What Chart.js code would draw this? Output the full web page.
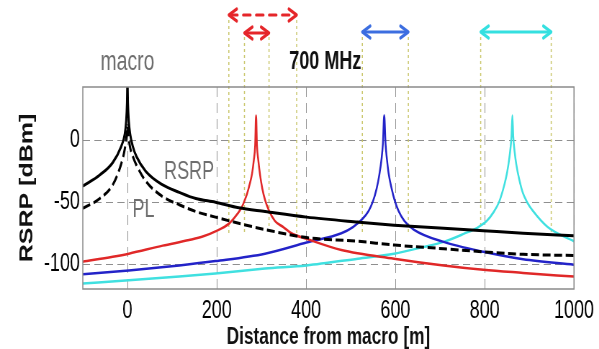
<!DOCTYPE html>
<html>
<head>
<meta charset="utf-8">
<script src="https://cdn.jsdelivr.net/npm/chart.js@4.4.0/dist/chart.umd.min.js"></script>
<style>
  html, body { margin: 0; padding: 0; overflow: hidden; background: #fff; }
  /* the source picture is squeezed sideways, so draw wide and squeeze */
  #wrap { width: 832px; height: 349px; transform: scaleX(0.72); transform-origin: 0 0; }
</style>
</head>
<body>
<div id="wrap"><canvas id="chart" width="832" height="349"></canvas></div>
<script>
// ticks
const xTicks = [0, 200, 400, 600, 800, 1000];
const yTicks = [-100, -50, 0];

// macro: RSRP (solid) and path loss (dashed)
const macroX = [-100, -62, -33, -14, -6, -3, -1, 0, 1, 3, 6, 12, 20, 41, 79, 116, 153, 197, 249, 308, 401, 516, 597, 708, 797, 886, 1000];
const macroRsrp = [-37, -28, -18, -5, 5, 15, 30, 48, 30, 15, 5, -5, -13, -25, -36, -42, -47, -50, -54.5, -57.5, -62, -66, -68.5, -71, -73, -75, -77];
const plX = [-100, -62, -33, -14, -6, -2, 0, 2, 6, 12, 20, 41, 79, 116, 153, 197, 249, 308, 401, 516, 597, 708, 797, 886, 1000];
const plY = [-55, -47, -36, -19, -7, 4, 12, 4, -6, -13, -20, -33, -45.5, -52, -57.5, -62, -67, -72, -78.5, -81.5, -84.5, -87.5, -90, -92, -93];

// small cells
const redX = [-100, -33, 3, 79, 138, 170, 197, 228, 247, 256, 262, 268, 274, 279, 283, 286, 288, 290, 293, 297, 302, 308, 316, 330, 349, 367, 401, 479, 597, 708, 797, 886, 1000];
const redY = [-98, -94, -91.5, -85, -80.5, -77.5, -73.5, -67, -59, -54, -49, -43, -35, -27, -16, -4, 20, -4, -16, -28, -39, -48, -56, -65, -70, -75, -79.5, -88.5, -95.5, -101, -104.5, -107, -110];
const blueX = [-100, 3, 116, 197, 308, 401, 479, 505, 525, 540, 550, 558, 564, 569, 572, 575, 578, 581, 585, 591, 598, 607, 620, 641, 708, 797, 886, 1000];
const blueY = [-108, -105, -101, -97.5, -91.5, -82.5, -75, -70, -64, -57, -49, -39, -28, -15, -3, 20, -3, -15, -27, -38, -48, -57, -65, -72, -82, -90, -96, -100.5];
const cyanX = [-100, 3, 116, 197, 308, 401, 516, 597, 664, 708, 753, 786, 805, 820, 832, 841, 848, 853, 857, 860, 862, 864, 867, 871, 877, 885, 895, 908, 941, 1000];
const cyanY = [-115.5, -113, -110, -107.5, -103.5, -101, -95.5, -91.5, -86, -82, -75.5, -70, -65, -58, -50, -40, -30, -20, -9, 3, 20, 3, -9, -20, -31, -42, -50, -57, -70, -81.5];

// coverage arrows above the plot (metres)
const arrowFrom = [227, 262, 526, 791];
const arrowTo = [379, 317, 629, 949];

// text labels inside the plot
const labelText = ['RSRP', 'PL'];
const labelX = [138, 36];
const labelY = [-26, -56.5];

const FONT = '"Liberation Sans", Arial, sans-serif';

function pts(xs, ys) {
    return xs.map((x, i) => ({ x: x, y: ys[i] }));
}

function arrow(ctx, x1, x2, y, color, dashed) {
    ctx.save();
    ctx.strokeStyle = color;
    ctx.lineWidth = 3.2;
    ctx.lineCap = 'round';
    ctx.lineJoin = 'round';
    ctx.setLineDash(dashed ? [10, 8] : []);
    ctx.beginPath();
    ctx.moveTo(x1 + 2, y);
    ctx.lineTo(x2 - 2, y);
    ctx.stroke();
    ctx.setLineDash([]);
    ctx.beginPath();
    ctx.moveTo(x1 + 11, y - 6); ctx.lineTo(x1, y); ctx.lineTo(x1 + 11, y + 6);
    ctx.moveTo(x2 - 11, y - 6); ctx.lineTo(x2, y); ctx.lineTo(x2 - 11, y + 6);
    ctx.stroke();
    ctx.restore();
}

const overlay = {
    id: 'overlay',
    beforeDatasetsDraw(chart) {
        const ctx = chart.ctx;
        const xs = chart.scales.x;
        const tops = [20, 37, 37, 37];
        ctx.save();
        ctx.strokeStyle = '#c9c66a';
        ctx.lineWidth = 1.5;
        ctx.setLineDash([3, 3]);
        arrowFrom.forEach((m, i) => {
            [m, arrowTo[i]].forEach(v => {
                const px = xs.getPixelForValue(v);
                ctx.beginPath();
                ctx.moveTo(px, tops[i]);
                ctx.lineTo(px, 235);
                ctx.stroke();
            });
        });
        ctx.restore();
    },
    afterDraw(chart) {
        const ctx = chart.ctx;
        const a = chart.chartArea;
        const xs = chart.scales.x, ys = chart.scales.y;

        // box
        ctx.save();
        ctx.strokeStyle = '#8a8a8a';
        ctx.lineWidth = 1.5;
        ctx.strokeRect(a.left, a.top, a.right - a.left, a.bottom - a.top);

        // labels in the plot
        ctx.fillStyle = '#6e6e6e';
        ctx.font = '25px ' + FONT;
        ctx.textAlign = 'center';
        ctx.textBaseline = 'middle';
        labelText.forEach((t, i) => {
            ctx.fillText(t, xs.getPixelForValue(labelX[i]), ys.getPixelForValue(labelY[i]));
        });

        // labels above the plot
        ctx.font = '27px ' + FONT;
        ctx.fillText('macro', xs.getPixelForValue(0), 63);
        ctx.fillStyle = '#111';
        ctx.font = 'bold 25px ' + FONT;
        ctx.fillText('700 MHz', xs.getPixelForValue(443), 62);
        ctx.restore();

        const p = i => [xs.getPixelForValue(arrowFrom[i]), xs.getPixelForValue(arrowTo[i])];
        arrow(ctx, p(0)[0], p(0)[1], 15, '#e5262a', true);
        arrow(ctx, p(1)[0], p(1)[1], 33, '#e5262a', false);
        arrow(ctx, p(2)[0], p(2)[1], 32, '#3c6ee0', false);
        arrow(ctx, p(3)[0], p(3)[1], 32, '#35e0e0', false);
    }
};

new Chart(document.getElementById('chart'), {
    type: 'line',
    data: {
        datasets: [
            { label: 'RSRP', data: pts(macroX, macroRsrp), borderColor: '#000', borderWidth: 3, clip: 0 },
            { label: 'PL', data: pts(plX, plY), borderColor: '#000', borderWidth: 3, borderDash: [11, 5], clip: 0 },
            { label: 'pico 1', data: pts(redX, redY), borderColor: '#e02828', borderWidth: 2.5, clip: 0 },
            { label: 'pico 2', data: pts(blueX, blueY), borderColor: '#2323c8', borderWidth: 2.5, clip: 0 },
            { label: 'pico 3', data: pts(cyanX, cyanY), borderColor: '#40e0e0', borderWidth: 2.5, clip: 0 }
        ]
    },
    options: {
        responsive: false,
        animation: false,
        layout: { padding: { top: 87, right: 32, bottom: 0, left: 0 } },
        elements: { point: { radius: 0 }, line: { cubicInterpolationMode: 'monotone' } },
        plugins: { legend: { display: false }, tooltip: { enabled: false } },
        scales: {
            x: {
                type: 'linear',
                min: -100,
                max: 1000,
                afterFit: s => { s.height = 60; },
                afterBuildTicks: s => { s.ticks = xTicks.map(v => ({ value: v })); },
                grid: { color: '#8f8f8f', lineWidth: 1, drawTicks: false },
                border: { display: false, dash: [10, 6] },
                ticks: {
                    padding: 7, color: '#000', maxRotation: 0, autoSkip: false,
                    font: { family: FONT, size: 25 },
                    callback: v => String(v)
                },
                title: {
                    display: true, text: 'Distance from macro [m]', color: '#111',
                    font: { family: FONT, size: 24, weight: 'bold', lineHeight: 1 },
                    padding: 0
                }
            },
            y: {
                min: -120,
                max: 43,
                afterFit: s => { s.width = 115; },
                afterBuildTicks: s => { s.ticks = yTicks.map(v => ({ value: v })); },
                grid: { color: '#8f8f8f', lineWidth: 1, drawTicks: false },
                border: { display: false, dash: [10, 6] },
                ticks: {
                    padding: 4, color: '#000',
                    font: { family: FONT, size: 25 },
                    callback: v => String(v)
                },
                title: {
                    display: true, text: 'RSRP [dBm]', color: '#111',
                    font: { family: FONT, size: 25, weight: 'bold', lineHeight: 1 },
                    padding: { top: 26, bottom: 0 }
                }
            }
        }
    },
    plugins: [overlay]
});
</script>
</body>
</html>
